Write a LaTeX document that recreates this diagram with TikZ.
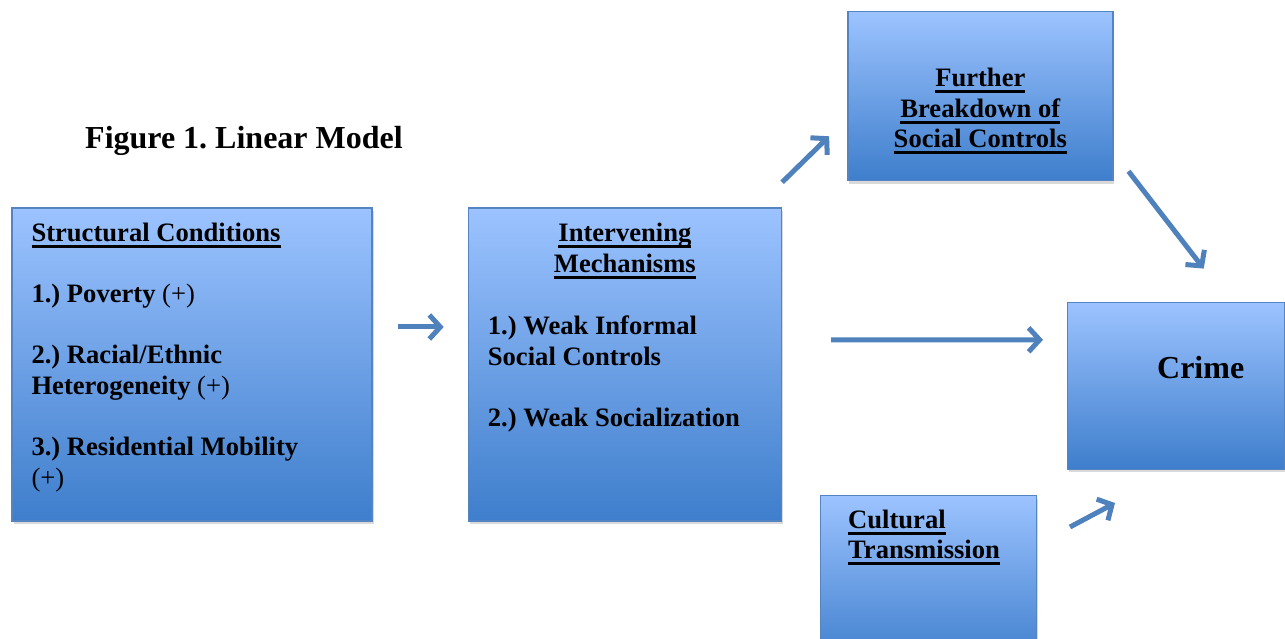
\documentclass[tikz,border=0pt]{standalone}
\usepackage{fontspec}
\setmainfont{Liberation Serif}
\frenchspacing
\definecolor{boxtop}{RGB}{156,195,255}
\definecolor{boxbottom}{RGB}{62,126,204}
\definecolor{boxline}{RGB}{84,132,194}
\definecolor{arrowblue}{RGB}{79,129,189}
\usetikzlibrary{positioning,arrows.meta,shadows}
\newcommand\ulx[1]{\leavevmode\setbox0\hbox{#1}\rlap{\vrule height-3.5pt depth6.3pt width\wd0}\box0}
\tikzset{
  block/.style={draw=boxline, line width=1.4pt, top color=boxtop, bottom color=boxbottom,
    drop shadow={shadow xshift=1.5pt, shadow yshift=-3pt, opacity=0.3}},
  bodytext/.style={inner sep=0pt, font=\fontsize{26.6pt}{30.6pt}\selectfont\bfseries},
  bigtext/.style={inner sep=0pt, font=\fontsize{32pt}{38pt}\selectfont\bfseries},
  flowarrow/.style={arrowblue, line width=5pt, -{Straight Barb[length=11pt,width=24pt]}}
}

\begin{document}
\begin{tikzpicture}[x=1pt,y=1pt]
  \useasboundingbox (0,0) rectangle (1285,639);

  \node [bigtext, anchor=base west] (title) at (85,490) {Figure 1. Linear Model};

  % boxes
  \node [block, minimum width=360pt, minimum height=313pt] (sc) at (192,274.5) {};
  \node [block, minimum width=313pt, minimum height=313pt, right=95pt of sc] (im) {};
  \node [block, minimum width=265pt, minimum height=169pt, above right=26pt and 65pt of im.north east] (fb) {};
  \node [block, minimum width=217pt, minimum height=167pt, anchor=south west] (cr) at (1067,169) {};
  \node [block, minimum width=216pt, minimum height=170pt, anchor=north west] (ct) at (820,144) {};

  % box texts (base = last line)
  \node [bodytext, align=left, anchor=base west] (sctext) at ([shift={(20pt,-279pt)}]sc.north west)
    {\ulx{Structural Conditions}\\[30.6pt]1.) Poverty \mdseries(+)\\[30.6pt]2.) Racial/Ethnic\\Heterogeneity \mdseries(+)\\[30.6pt]3.) Residential Mobility\\\mdseries(+)};
  \node [bodytext, align=center, anchor=base] (imhead) at ([yshift=-65pt]im.north) {\ulx{Intervening}\\\ulx{Mechanisms}};
  \node [bodytext, align=left, anchor=base west] (imlist) at ([shift={(20pt,-219pt)}]im.north west)
    {1.) Weak Informal\\Social Controls\\[30.6pt]2.) Weak Socialization};
  \node [bodytext, align=center, anchor=base] (fbtext) at ([yshift=-137pt]fb.north) {\ulx{Further}\\\ulx{Breakdown of}\\\ulx{Social Controls}};
  \node [bigtext, anchor=base] (crtext) at ([shift={(24.5pt,-77pt)}]cr.north) {Crime};
  \node [bodytext, align=left, anchor=base west] (cttext) at ([shift={(28pt,-64pt)}]ct.north west) {\ulx{Cultural}\\\ulx{Transmission}};

  % arrows
  \draw [flowarrow] ([shift={(25pt,37.5pt)}]sc.east) -- ([shift={(-24pt,37.5pt)}]im.west);
  \draw [flowarrow] ([yshift=25pt]im.north east) -- ([shift={(-18pt,45pt)}]fb.south west);
  \draw [flowarrow] ([shift={(15pt,10pt)}]fb.south east) -- ([shift={(27.5pt,33pt)}]cr.north);
  \draw [flowarrow] ([shift={(49pt,24.5pt)}]im.east) -- ([shift={(-24pt,46pt)}]cr.west);
  \draw [flowarrow] ([shift={(3pt,-57pt)}]cr.south west) -- ([shift={(48pt,-33pt)}]cr.south west);
\end{tikzpicture}
\end{document}
